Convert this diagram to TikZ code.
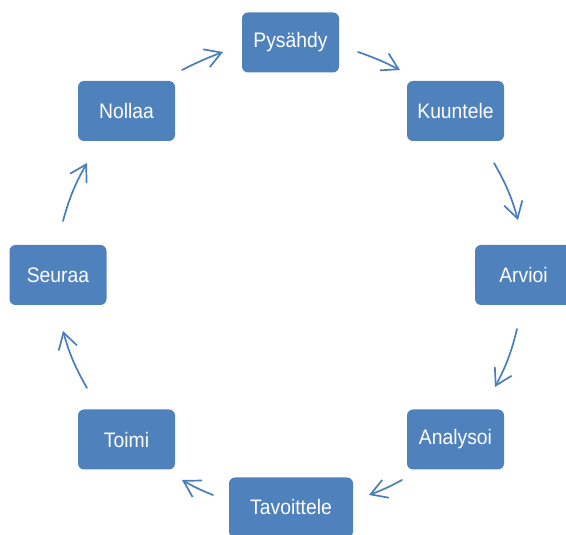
\documentclass[tikz,border=0pt]{standalone}
\usepackage{fontspec}
\setmainfont[FakeStretch=0.92]{Liberation Sans}
\usetikzlibrary{arrows.meta}
\definecolor{boxblue}{HTML}{4F81BD}
\definecolor{arrblue}{HTML}{4A7EBB}
\begin{document}
\begin{tikzpicture}[x=1pt,y=1pt,
  stepbox/.style={rectangle, rounded corners=6pt, fill=boxblue, text=white,
    minimum width=97pt, minimum height=60pt, inner sep=0pt, font=\fontsize{21}{24}\selectfont},
  cyc/.style={draw=arrblue, line width=1.7pt, line cap=round,
    -{Straight Barb[length=16pt, width=19pt, line width=1.7pt]}, bend left=7}]
\useasboundingbox (0,0) rectangle (566,535);
\begin{scope}
\clip (0,0) rectangle (566,535);
\node[stepbox] (pys) at (290.5,492.5) {Pysähdy};
\node[stepbox] (kuu) at (455.5,424) {Kuuntele};
\node[stepbox] (arv) at (523.5,260) {Arvioi};
\node[stepbox] (ana) at (455.5,95.5) {Analysoi};
\node[stepbox, minimum width=124pt] (tav) at (291,27.5) {Tavoittele};
\node[stepbox] (toi) at (126.5,95.5) {Toimi};
\node[stepbox] (seu) at (58,260) {Seuraa};
\node[stepbox] (nol) at (126.5,424) {Nollaa};
\end{scope}
\coordinate (a1s) at (182,465); \coordinate (a1e) at (223,483);
\coordinate (a2s) at (358,483); \coordinate (a2e) at (400,465);
\coordinate (a3s) at (494,372); \coordinate (a3e) at (518,315);
\coordinate (a4s) at (517,206); \coordinate (a4e) at (495,148);
\coordinate (a5s) at (402,55);  \coordinate (a5e) at (369,40);
\coordinate (a6s) at (213,40);  \coordinate (a6e) at (182,55);
\coordinate (a7s) at (87,147);  \coordinate (a7e) at (63,204);
\coordinate (a8s) at (63,314);  \coordinate (a8e) at (87,372);
\draw[cyc, bend left=3] (a1s) to (a1e);
\draw[cyc, bend left=4] (a2s) to (a2e);
\draw[cyc] (a3s) to (a3e);
\draw[cyc] (a4s) to (a4e);
\draw[cyc, bend left=4] (a5s) to (a5e);
\draw[cyc, bend left=4] (a6s) to (a6e);
\draw[cyc] (a7s) to (a7e);
\draw[cyc] (a8s) to (a8e);
\end{tikzpicture}
\end{document}
